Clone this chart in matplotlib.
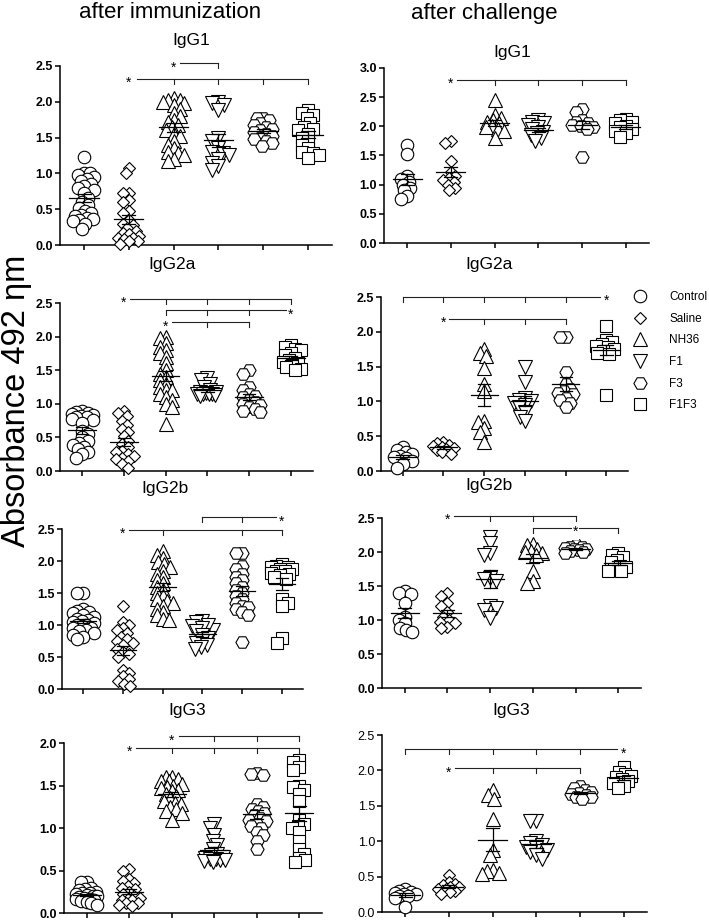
import numpy as np
import matplotlib.pyplot as plt
from matplotlib.lines import Line2D

plt.rcParams['font.family'] = ['Liberation Sans', 'DejaVu Sans']

W, H = 709, 921

groups = ['Control', 'Saline', 'NH36', 'F1', 'F3', 'F1F3']
marker_style = {'Control': ('o', 9), 'Saline': ('D', 6.5), 'NH36': ('^', 10),
                'F1': ('v', 10), 'F3': ('H', 9.5), 'F1F3': ('s', 8.5)}

# ---- after immunization ----
imm_igg1 = {
    'Control': [1.23, 1.0, 1.0, 0.98, 0.95, 0.92, 0.9, 0.85, 0.82, 0.8, 0.77, 0.72, 0.65, 0.6, 0.56,
                0.52, 0.48, 0.45, 0.42, 0.4, 0.38, 0.36, 0.35, 0.33, 0.3, 0.22],
    'Saline': [1.08, 1.0, 0.73, 0.72, 0.63, 0.6, 0.48, 0.45, 0.35, 0.3, 0.28, 0.24, 0.2, 0.17,
               0.15, 0.12, 0.1, 0.1, 0.08, 0.05, 0.05, 0.02],
    'NH36': [2.05, 2.03, 2.02, 2.0, 1.98, 1.95, 1.9, 1.85, 1.8, 1.75, 1.72, 1.68, 1.65, 1.6, 1.55,
             1.52, 1.45, 1.4, 1.35, 1.3, 1.28, 1.25, 1.2, 1.18],
    'F1': [2.0, 1.98, 1.95, 1.88, 1.5, 1.45, 1.35, 1.3, 1.28, 1.25, 1.2, 1.15, 1.1, 1.05],
    'F3': [1.78, 1.78, 1.75, 1.7, 1.68, 1.65, 1.62, 1.6, 1.58, 1.55, 1.52, 1.5, 1.48, 1.45, 1.42, 1.38],
    'F1F3': [1.88, 1.85, 1.82, 1.78, 1.7, 1.65, 1.62, 1.6, 1.55, 1.5, 1.45, 1.4, 1.35, 1.3, 1.28,
             1.25, 1.22],
}
imm_igg2a = {
    'Control': [0.9, 0.88, 0.87, 0.85, 0.84, 0.82, 0.8, 0.8, 0.78, 0.76, 0.72, 0.6, 0.55, 0.5, 0.45,
                0.42, 0.38, 0.35, 0.32, 0.28, 0.25, 0.2],
    'Saline': [0.9, 0.87, 0.82, 0.75, 0.68, 0.62, 0.58, 0.52, 0.45, 0.4, 0.35, 0.3, 0.28, 0.25,
               0.22, 0.2, 0.18, 0.15, 0.1, 0.05],
    'NH36': [2.0, 1.98, 1.9, 1.85, 1.8, 1.75, 1.7, 1.6, 1.5, 1.45, 1.4, 1.35, 1.3, 1.25, 1.2, 1.2,
             1.15, 1.1, 1.05, 1.0, 0.95, 0.7],
    'F1': [1.38, 1.35, 1.3, 1.25, 1.2, 1.18, 1.17, 1.16, 1.15, 1.15, 1.14, 1.14, 1.13, 1.12],
    'F3': [1.5, 1.45, 1.25, 1.2, 1.15, 1.12, 1.1, 1.05, 1.02, 1.0, 0.98, 0.95, 0.92, 0.9, 0.88],
    'F1F3': [1.88, 1.85, 1.82, 1.8, 1.75, 1.72, 1.68, 1.65, 1.62, 1.6, 1.58, 1.55, 1.52, 1.5],
}
imm_igg2b = {
    'Control': [1.5, 1.5, 1.25, 1.22, 1.2, 1.18, 1.15, 1.12, 1.1, 1.08, 1.06, 1.05, 1.03, 1.0, 1.0,
                0.98, 0.96, 0.95, 0.92, 0.9, 0.88, 0.85, 0.82, 0.78],
    'Saline': [1.3, 1.05, 1.0, 0.95, 0.92, 0.88, 0.82, 0.78, 0.75, 0.72, 0.68, 0.62, 0.58, 0.55,
               0.5, 0.3, 0.25, 0.2, 0.15, 0.12, 0.08, 0.05],
    'NH36': [2.15, 2.1, 2.05, 1.98, 1.95, 1.9, 1.85, 1.8, 1.75, 1.7, 1.65, 1.6, 1.55, 1.5, 1.45,
             1.4, 1.38, 1.35, 1.3, 1.25, 1.2, 1.15, 1.1, 1.08],
    'F1': [1.06, 1.05, 0.92, 1.0, 0.98, 0.95, 0.9, 0.85, 0.8, 0.75, 0.72, 0.68, 0.65, 0.62],
    'F3': [2.12, 2.12, 1.92, 1.88, 1.8, 1.75, 1.7, 1.65, 1.6, 1.55, 1.5, 1.45, 1.4, 1.35, 1.3,
           1.28, 1.25, 1.2, 1.15, 0.74],
    'F1F3': [1.95, 1.92, 1.9, 1.9, 1.88, 1.88, 1.85, 1.85, 1.82, 1.8, 1.78, 1.75, 1.72, 1.4, 1.35,
             1.3, 0.8, 0.72],
}
imm_igg3 = {
    'Control': [0.36, 0.36, 0.3, 0.28, 0.27, 0.25, 0.24, 0.23, 0.22, 0.21, 0.2, 0.2, 0.19, 0.18,
                0.17, 0.16, 0.15, 0.14, 0.13, 0.12, 0.1],
    'Saline': [0.52, 0.5, 0.4, 0.38, 0.35, 0.32, 0.3, 0.28, 0.25, 0.22, 0.2, 0.18, 0.17, 0.15,
               0.15, 0.12, 0.12, 0.1, 0.08],
    'NH36': [1.6, 1.6, 1.58, 1.55, 1.55, 1.52, 1.5, 1.48, 1.47, 1.45, 1.43, 1.4, 1.38, 1.35, 1.32,
             1.3, 1.28, 1.25, 1.22, 1.2, 1.18, 1.1],
    'F1': [1.05, 1.0, 0.92, 0.85, 0.8, 0.75, 0.7, 0.68, 0.66, 0.65, 0.64, 0.63, 0.62, 0.62, 0.61, 0.6],
    'F3': [1.65, 1.64, 1.62, 1.28, 1.25, 1.22, 1.2, 1.18, 1.15, 1.12, 1.1, 1.08, 1.05, 1.02, 1.0,
           0.95, 0.92, 0.85, 0.75],
    'F1F3': [1.8, 1.78, 1.72, 1.68, 1.5, 1.48, 1.45, 1.4, 1.32, 1.1, 1.05, 1.02, 1.0, 0.95, 0.85,
             0.75, 0.7, 0.65, 0.62, 0.6],
}

# ---- after challenge ----
ch_igg1 = {
    'Control': [1.68, 1.53, 1.15, 1.1, 1.05, 1.0, 0.95, 0.9, 0.8, 0.75],
    'Saline': [1.75, 1.72, 1.4, 1.22, 1.15, 1.12, 1.08, 1.05, 1.0, 0.95, 0.9],
    'NH36': [2.45, 2.2, 2.15, 2.1, 2.08, 2.05, 2.0, 1.98, 1.95, 1.92, 1.8],
    'F1': [2.1, 2.08, 2.05, 2.02, 1.98, 1.95, 1.9, 1.88, 1.85, 1.8, 1.75],
    'F3': [2.3, 2.25, 2.1, 2.08, 2.05, 2.03, 2.0, 1.98, 1.95, 1.48],
    'F1F3': [2.12, 2.1, 2.08, 2.05, 2.0, 1.98, 1.95, 1.92, 1.88, 1.82],
}
ch_igg2a = {
    'Control': [0.35, 0.3, 0.27, 0.25, 0.22, 0.2, 0.18, 0.15, 0.1, 0.05],
    'Saline': [0.42, 0.4, 0.38, 0.36, 0.35, 0.33, 0.32, 0.3, 0.28, 0.25],
    'NH36': [1.76, 1.7, 1.65, 1.48, 1.25, 1.15, 0.72, 0.7, 0.62, 0.56, 0.42],
    'F1': [1.5, 1.28, 1.05, 1.02, 1.0, 0.98, 0.95, 0.92, 0.85, 0.78, 0.72],
    'F3': [1.92, 1.92, 1.42, 1.25, 1.18, 1.15, 1.12, 1.1, 1.05, 1.02, 0.98, 0.92],
    'F1F3': [2.08, 1.88, 1.85, 1.82, 1.8, 1.78, 1.75, 1.72, 1.7, 1.68, 1.09],
}
ch_igg2b = {
    'Control': [1.42, 1.4, 1.38, 1.25, 1.05, 1.0, 0.95, 0.88, 0.85, 0.82],
    'Saline': [1.4, 1.35, 1.25, 1.2, 1.12, 1.05, 1.0, 0.97, 0.95, 0.9, 0.88],
    'NH36': [2.12, 2.1, 2.05, 2.02, 2.0, 1.98, 1.95, 1.72, 1.58, 1.55],
    'F1': [2.22, 2.13, 1.98, 1.96, 1.62, 1.6, 1.58, 1.2, 1.18, 1.15, 1.03],
    'F3': [2.1, 2.08, 2.07, 2.06, 2.05, 2.04, 2.03, 2.02, 2.0, 1.99],
    'F1F3': [1.98, 1.95, 1.92, 1.88, 1.85, 1.8, 1.78, 1.75, 1.72, 1.72],
}
ch_igg3 = {
    'Control': [0.33, 0.3, 0.28, 0.27, 0.26, 0.25, 0.23, 0.22, 0.2, 0.07],
    'Saline': [0.52, 0.42, 0.4, 0.38, 0.36, 0.35, 0.33, 0.32, 0.3, 0.28, 0.26],
    'NH36': [1.72, 1.65, 1.6, 1.32, 0.88, 0.8, 0.6, 0.58, 0.55, 0.53],
    'F1': [1.28, 1.28, 1.0, 0.98, 0.95, 0.92, 0.9, 0.88, 0.85, 0.8, 0.75],
    'F3': [1.78, 1.75, 1.72, 1.7, 1.68, 1.67, 1.65, 1.63, 1.62, 1.6],
    'F1F3': [2.05, 1.98, 1.95, 1.92, 1.9, 1.88, 1.85, 1.82, 1.78, 1.75],
}

# significance brackets: (y, line start, line end, tick groups, star position)
br_imm_igg1 = [(2.54, 2.15, 3, [3], 2), (2.32, 1.18, 5, [2, 3, 4, 5], 1)]
br_imm_igg2a = [(2.56, 1.15, 5, [2, 3, 4, 5], 1), (2.39, 2, 4.88, [2, 3, 4], 5),
                (2.21, 2.15, 4, [3, 4], 2)]
br_imm_igg2b = [(2.68, 3, 4.85, [3, 4], 5), (2.49, 1.15, 5, [2, 4, 5], 1)]
br_imm_igg3 = [(2.08, 2.18, 5, [3, 4, 5], 2), (1.94, 1.15, 5, [2, 3, 4, 5], 1)]
br_ch_igg1 = [(2.80, 1.15, 5, [2, 3, 4, 5], 1)]
br_ch_igg2a = [(2.5, 0, 4.85, [0, 1, 2, 3, 4], 5), (2.19, 1.15, 4, [2, 3, 4], 1)]
br_ch_igg2b = [(2.53, 1.15, 4, [2, 3, 4], 1), (2.36, 3, 5, [3, 5], 4)]
br_ch_igg3 = [(2.3, 0, 4.85, [0, 1, 2, 3, 4], 5), (2.03, 1.15, 4, [2, 3, 4], 1)]

normal_order = ['Control', 'Saline', 'NH36', 'F1', 'F3', 'F1F3']
swapped_order = ['Control', 'Saline', 'F1', 'NH36', 'F3', 'F1F3']

# (data, order, ymax, box px (left, right, top, bottom), title, title px, brackets, bold)
panels = [
    (imm_igg1, normal_order, 2.5, (60, 332, 66, 245), 'IgG1', (191, 40), br_imm_igg1, True),
    (imm_igg2a, normal_order, 2.5, (60, 313, 303, 471), 'IgG2a', (172, 264), br_imm_igg2a, True),
    (imm_igg2b, normal_order, 2.5, (62, 303, 529, 689), 'IgG2b', (165, 488), br_imm_igg2b, True),
    (imm_igg3, normal_order, 2.0, (64, 322, 743, 913), 'IgG3', (187, 710), br_imm_igg3, True),
    (ch_igg1, normal_order, 3.0, (384, 649, 68, 243), 'IgG1', (512, 52), br_ch_igg1, True),
    (ch_igg2a, normal_order, 2.5, (381, 628, 297, 471), 'IgG2a', (489, 265), br_ch_igg2a, True),
    (ch_igg2b, swapped_order, 2.5, (382, 641, 518, 688), 'IgG2b', (489, 485), br_ch_igg2b, True),
    (ch_igg3, normal_order, 2.5, (382, 647, 735, 912), 'IgG3', (511, 710), br_ch_igg3, False),
]


def swarm_offsets(ax, vals, min_dist=6.0, step=1.5, cap=11.0):
    # compact beeswarm in pixel space (overlap allowed), returns x offsets in data units
    vals = np.asarray(vals, dtype=float)
    y_px = ax.transData.transform(np.column_stack([np.zeros(len(vals)), vals]))[:, 1]
    x_scale = ax.transData.transform([[1, 0]])[0, 0] - ax.transData.transform([[0, 0]])[0, 0]
    placed = []
    offs = np.zeros(len(vals))
    nsteps = int(cap / step)
    for n, i in enumerate(np.argsort(-vals)):
        cands = [0.0]
        for k in range(1, nsteps + 1):
            cands += [k * step, -k * step] if n % 2 == 0 else [-k * step, k * step]
        best, best_d = 0.0, -1.0
        for c in cands:
            d = min([np.hypot(c - px, y_px[i] - py) for px, py in placed] or [99.0])
            if d >= min_dist:
                best = c
                break
            if d > best_d:
                best, best_d = c, d
        placed.append((best, y_px[i]))
        offs[i] = best / x_scale
    return offs


fig = plt.figure(figsize=(W / 100, H / 100), dpi=100)

for data, order, ymax, (l, r, t, b), title, (tx, ty), brackets, bold in panels:
    ax = fig.add_axes([l / W, 1 - b / H, (r - l) / W, (b - t) / H])
    ax.set_xlim(-0.53, 5.53)
    ax.set_ylim(0, ymax)
    for s in ['top', 'right']:
        ax.spines[s].set_visible(False)
    for s in ['left', 'bottom']:
        ax.spines[s].set_linewidth(1.1)
    ax.set_xticks(range(6))
    ax.set_xticklabels([])
    ax.set_yticks(np.arange(0, ymax + 0.01, 0.5))
    ax.set_yticklabels([f'{v:.1f}' for v in np.arange(0, ymax + 0.01, 0.5)],
                       fontweight='bold' if bold else 'normal', fontsize=9)
    ax.tick_params(direction='out', length=3.5, width=1.1, pad=1.5)

    for pos, name in enumerate(order):
        vals = np.array(data[name])
        m, ms = marker_style[name]
        offs = swarm_offsets(ax, vals)
        ax.plot(pos + offs, vals, ls='none', marker=m, ms=ms, mfc='white', mec='black',
                mew=0.8, clip_on=False, zorder=3)
        mean = vals.mean()
        sem = vals.std(ddof=1) / np.sqrt(len(vals))
        ax.plot([pos - 0.33, pos + 0.33], [mean, mean], color='black', lw=0.9, zorder=4)
        ax.plot([pos, pos], [mean - sem, mean + sem], color='black', lw=0.9, zorder=4)
        for e in (mean - sem, mean + sem):
            ax.plot([pos - 0.15, pos + 0.15], [e, e], color='black', lw=0.9, zorder=4)

    px_per_unit = (b - t) / ymax
    tick_len = 5 / px_per_unit
    for y, x0, x1, ticks, star in brackets:
        ax.plot([x0, x1], [y, y], color='#222222', lw=0.8, clip_on=False, zorder=5)
        for g in ticks:
            ax.plot([g, g], [y, y - tick_len], color='#222222', lw=0.8, clip_on=False, zorder=5)
        kw = {}
        if x0 < star < x1:
            kw['bbox'] = dict(facecolor='white', edgecolor='none', pad=0.6)
        ax.annotate('*', (star, y), xytext=(0, -3), textcoords='offset points', ha='center',
                    va='center', fontsize=10, annotation_clip=False, zorder=6, **kw)

    fig.text(tx / W, 1 - ty / H, title, ha='center', va='center', fontsize=12.5)

fig.text(170 / W, 1 - 13 / H, 'after immunization', ha='center', va='center', fontsize=16)
fig.text(484 / W, 1 - 13 / H, 'after challenge', ha='center', va='center', fontsize=16)
fig.text(17 / W, 1 - 401 / H, 'Absorbance 492 ηm', rotation=90, ha='center', va='center',
         fontsize=23.5)

handles = [Line2D([], [], ls='none', marker=marker_style[g][0], ms=marker_style[g][1],
                  mfc='white', mec='black', mew=0.8) for g in groups]
fig.legend(handles, groups, loc='upper left', bbox_to_anchor=(633 / W, 1 - 291 / H),
           frameon=False, fontsize=8.5, handlelength=1.2, handletextpad=1.85,
           labelspacing=0.82, borderpad=0, borderaxespad=0)

fig.savefig('out.png', dpi=100)
